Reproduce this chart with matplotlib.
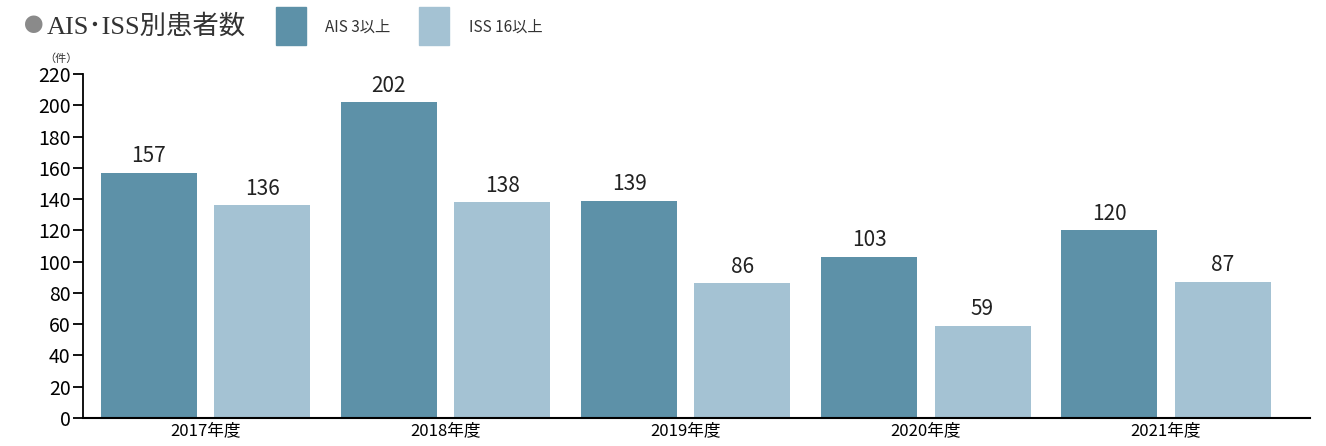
import numpy as np
import matplotlib.pyplot as plt

plt.rcParams['font.family'] = ['Noto Sans CJK JP', 'DejaVu Sans']

years = ['2017年度', '2018年度', '2019年度', '2020年度', '2021年度']
ais = [157, 202, 139, 103, 120]
iss = [136, 138, 86, 59, 87]
labels = ['AIS 3以上', 'ISS 16以上']

dark = '#5d91a8'
light = '#a4c2d3'

fig = plt.figure(figsize=(13.26, 4.46), dpi=100)
ax = fig.add_axes([0.0626, 0.063, 0.9254, 0.771])

x = np.arange(len(years))
w = 0.40
off = 0.236
b1 = ax.bar(x - off, ais, w, color=dark, label=labels[0])
b2 = ax.bar(x + off, iss, w, color=light, label=labels[1])

for bars in (b1, b2):
    for b in bars:
        ax.annotate(str(int(b.get_height())), (b.get_x() + b.get_width() / 2, b.get_height()),
                    textcoords='offset points', xytext=(0, 4), ha='center', va='bottom',
                    fontsize=15, color='#222222')

ax.set_xlim(-0.51, 4.6)
ax.set_ylim(0, 220)
ax.set_yticks(np.arange(0, 221, 20))
ax.set_xticks(x)
ax.set_xticklabels(years, fontsize=12)
ax.tick_params(axis='x', length=0, pad=3)
ax.tick_params(axis='y', labelsize=14, length=7, width=1.3, direction='out', pad=2)
for s in ['top', 'right']:
    ax.spines[s].set_visible(False)
ax.spines['left'].set_linewidth(1.3)
ax.spines['bottom'].set_linewidth(1.5)

# unit label
fig.text(0.046, 0.862, '（件）', fontsize=8, color='#333333', ha='center')

# title
fig.text(0.018, 0.94, '●', fontsize=14, color='#8a8a8a', va='center')
fig.text(0.0355, 0.94, 'AIS･ISS別患者数', fontsize=19, color='#333333', va='center',
         family=['Liberation Serif', 'Noto Sans CJK JP'])

# legend boxes
fig.patches.append(plt.Rectangle((0.2085, 0.90), 0.0225, 0.085, transform=fig.transFigure, color=dark))
fig.text(0.245, 0.94, labels[0], fontsize=11, color='#333333', va='center')
fig.patches.append(plt.Rectangle((0.316, 0.90), 0.0225, 0.085, transform=fig.transFigure, color=light))
fig.text(0.354, 0.94, labels[1], fontsize=11, color='#333333', va='center')

fig.savefig('out.png', dpi=100)
